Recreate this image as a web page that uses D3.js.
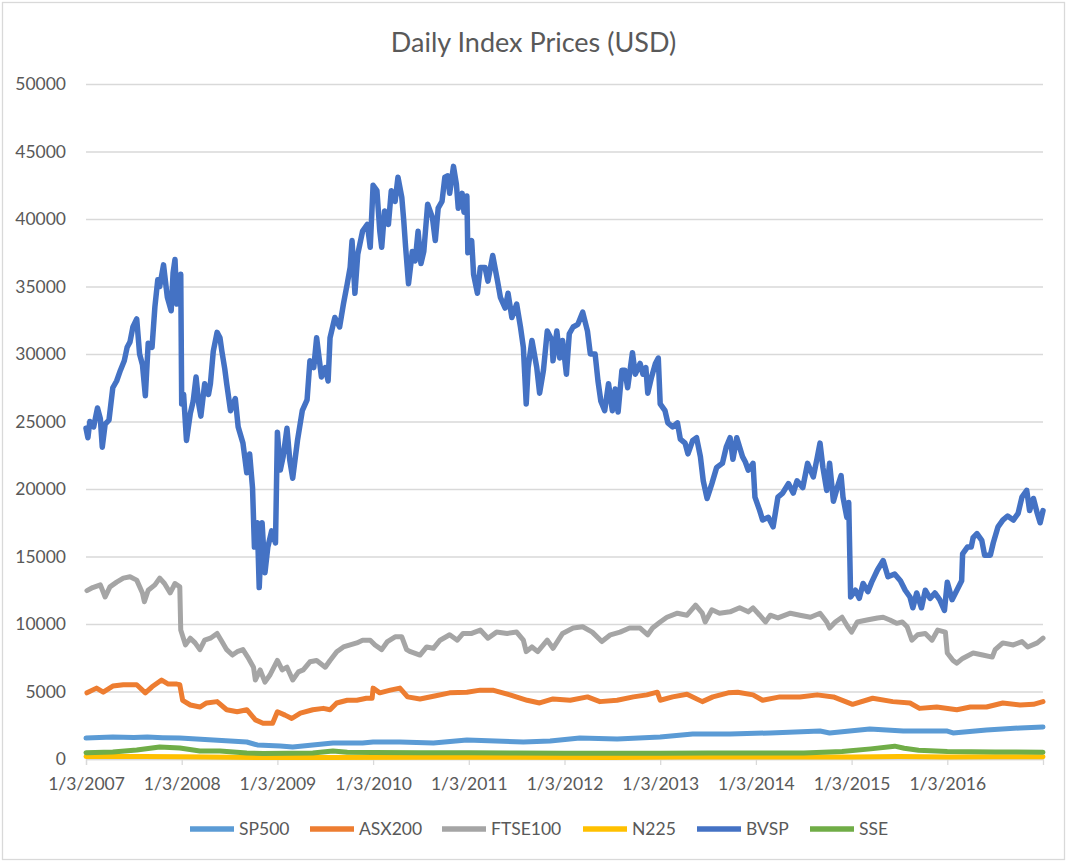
<!DOCTYPE html>
<html>
<head>
<meta charset="utf-8">
<script src="https://cdn.jsdelivr.net/npm/d3@7/dist/d3.min.js"></script>
<style>
  html, body { margin: 0; padding: 0; background: #fff; }
  svg { display: block; font-family: Lato, "Open Sans", sans-serif; }
</style>
</head>
<body>
<svg id="chart"></svg>
<script>
// tick labels on the category axis (first trading day of each year)
const tickYears = [2007, 2008, 2009, 2010, 2011, 2012, 2013, 2014, 2015, 2016];
const tickLabels = ["1/3/2007", "1/3/2008", "1/3/2009", "1/3/2010", "1/3/2011",
                    "1/3/2012", "1/3/2013", "1/3/2014", "1/3/2015", "1/3/2016"];

// series values as [decimal year, price in USD]
const sp500 = [[2007.00,1550],[2007.28,1630],[2007.50,1600],[2007.64,1630],[2007.80,1580],[2007.98,1550],
  [2008.33,1400],[2008.68,1260],[2008.79,1040],[2009.03,960],[2009.16,890],[2009.37,1040],[2009.58,1180],
  [2009.89,1180],[2010.00,1260],[2010.28,1260],[2010.63,1180],[2010.98,1400],[2011.57,1260],[2011.85,1330],
  [2012.16,1550],[2012.55,1480],[2013.00,1630],[2013.34,1850],[2013.73,1850],[2014.15,1930],[2014.67,2070],
  [2014.77,1930],[2015.19,2220],[2015.54,2070],[2016.00,2070],[2016.06,1930],[2016.41,2150],[2016.76,2300],
  [2017.00,2370]];

const asx200 = [[2007.01,4900],[2007.11,5250],[2007.18,4950],[2007.28,5400],[2007.39,5500],[2007.53,5500],
  [2007.62,4900],[2007.69,5350],[2007.79,5850],[2007.86,5550],[2007.95,5550],[2007.98,5500],[2008.01,4350],
  [2008.09,4000],[2008.19,3850],[2008.26,4150],[2008.37,4250],[2008.47,3650],[2008.58,3500],[2008.68,3650],
  [2008.77,2900],[2008.85,2650],[2008.95,2650],[2009.00,3500],[2009.08,3250],[2009.15,3000],[2009.24,3400],
  [2009.37,3650],[2009.48,3750],[2009.55,3650],[2009.62,4150],[2009.73,4350],[2009.83,4350],[2009.93,4500],
  [2009.99,4500],[2010.00,5250],[2010.07,4900],[2010.18,5100],[2010.28,5250],[2010.36,4600],[2010.49,4450],
  [2010.63,4650],[2010.80,4900],[2010.98,4950],[2011.12,5100],[2011.25,5100],[2011.43,4750],[2011.61,4350],
  [2011.74,4150],[2011.88,4450],[2012.06,4350],[2012.24,4600],[2012.37,4250],[2012.55,4350],[2012.72,4600],
  [2012.86,4750],[2012.97,4950],[2013.00,4350],[2013.13,4600],[2013.28,4800],[2013.44,4250],[2013.55,4600],
  [2013.71,4900],[2013.81,4950],[2013.97,4750],[2014.07,4350],[2014.25,4600],[2014.46,4600],[2014.64,4750],
  [2014.81,4600],[2015.01,4050],[2015.22,4500],[2015.43,4250],[2015.61,4150],[2015.71,3750],[2015.89,3850],
  [2016.10,3650],[2016.24,3850],[2016.41,3850],[2016.58,4150],[2016.76,4000],[2016.90,4050],[2017.00,4250]];

const ftse100 = [[2007.01,12470],[2007.07,12700],[2007.15,12900],[2007.20,12000],[2007.25,12750],
  [2007.32,13100],[2007.39,13400],[2007.46,13500],[2007.53,13250],[2007.59,12300],[2007.61,11650],
  [2007.65,12500],[2007.72,12900],[2007.77,13400],[2007.82,13000],[2007.88,12300],[2007.93,13000],
  [2007.98,12750],[2007.99,9550],[2008.04,8450],[2008.09,8950],[2008.14,8600],[2008.19,8100],[2008.24,8800],
  [2008.30,8950],[2008.37,9300],[2008.42,8700],[2008.47,8100],[2008.53,7700],[2008.58,7950],[2008.64,8100],
  [2008.69,7550],[2008.75,6800],[2008.77,5850],[2008.82,6600],[2008.87,5700],[2008.92,6200],[2009.00,7300],
  [2009.05,6600],[2009.10,6800],[2009.16,5850],[2009.22,6450],[2009.27,6600],[2009.34,7200],[2009.41,7300],
  [2009.50,6800],[2009.55,7300],[2009.62,7950],[2009.69,8300],[2009.76,8450],[2009.83,8600],[2009.89,8800],
  [2009.97,8800],[2010.02,8450],[2010.09,8100],[2010.15,8700],[2010.23,9050],[2010.30,9050],[2010.35,8100],
  [2010.39,7950],[2010.49,7700],[2010.56,8300],[2010.63,8200],[2010.70,8800],[2010.80,9200],[2010.88,8800],
  [2010.94,9300],[2011.03,9300],[2011.12,9550],[2011.20,8950],[2011.29,9400],[2011.40,9300],[2011.50,9400],
  [2011.57,8800],[2011.60,7950],[2011.66,8300],[2011.72,7950],[2011.82,8800],[2011.88,8200],[2011.98,9300],
  [2012.09,9700],[2012.19,9800],[2012.29,9400],[2012.39,8700],[2012.48,9200],[2012.58,9400],[2012.68,9700],
  [2012.79,9700],[2012.87,9200],[2012.92,9700],[2013.00,10150],[2013.07,10500],[2013.18,10800],[2013.28,10650],
  [2013.37,11400],[2013.44,10800],[2013.47,10150],[2013.54,11050],[2013.62,10800],[2013.73,10900],
  [2013.83,11200],[2013.92,10900],[2013.97,11200],[2014.04,10650],[2014.10,10150],[2014.15,10650],
  [2014.23,10450],[2014.36,10800],[2014.46,10650],[2014.57,10500],[2014.67,10800],[2014.74,10150],
  [2014.77,9700],[2014.83,10150],[2014.90,10500],[2014.96,9800],[2015.00,9400],[2015.06,10150],[2015.16,10300],
  [2015.27,10450],[2015.33,10500],[2015.40,10300],[2015.47,10050],[2015.53,10150],[2015.58,9800],
  [2015.63,8800],[2015.69,9200],[2015.77,9300],[2015.84,8800],[2015.90,9550],[2015.98,9400],[2016.00,7850],
  [2016.06,7300],[2016.10,7100],[2016.16,7450],[2016.27,7850],[2016.37,7700],[2016.47,7550],[2016.50,8100],
  [2016.58,8600],[2016.69,8450],[2016.78,8700],[2016.84,8300],[2016.94,8600],[2017.00,8950]];

const n225 = [[2007.00,180],[2007.60,190],[2008.00,170],[2008.80,110],[2009.50,120],[2010.50,130],
  [2011.50,125],[2012.50,120],[2013.20,150],[2014.00,140],[2015.00,150],[2015.50,180],[2016.00,150],
  [2016.50,160],[2017.00,170]];

const bvsp = [[2007.00,24500],[2007.02,23800],[2007.04,25000],[2007.08,24600],[2007.12,26000],[2007.15,25200],
  [2007.17,23100],[2007.20,24800],[2007.24,25100],[2007.28,27500],[2007.32,28000],[2007.36,28800],
  [2007.40,29500],[2007.43,30500],[2007.46,30900],[2007.49,32000],[2007.53,32600],[2007.56,30000],
  [2007.59,29200],[2007.62,26900],[2007.65,30800],[2007.69,30500],[2007.72,33500],[2007.75,35500],
  [2007.77,35000],[2007.81,36600],[2007.83,35400],[2007.85,34200],[2007.89,33200],[2007.91,36000],
  [2007.93,37000],[2007.95,33700],[2007.97,34800],[2007.99,35900],[2008.00,26300],[2008.02,27000],
  [2008.05,23600],[2008.09,25600],[2008.12,26500],[2008.15,28300],[2008.18,26200],[2008.20,25400],
  [2008.24,27800],[2008.28,27000],[2008.30,27800],[2008.33,30200],[2008.37,31600],[2008.40,31200],
  [2008.42,30200],[2008.45,28900],[2008.47,27800],[2008.51,25800],[2008.56,26700],[2008.59,24600],
  [2008.64,23400],[2008.66,22300],[2008.68,21200],[2008.71,22600],[2008.74,20100],[2008.76,15700],
  [2008.79,17500],[2008.81,12700],[2008.84,17500],[2008.87,13800],[2008.90,15700],[2008.94,16900],
  [2008.98,16000],[2009.00,24200],[2009.03,21400],[2009.06,22400],[2009.10,24500],[2009.13,22100],
  [2009.16,20800],[2009.21,23600],[2009.26,25800],[2009.31,26600],[2009.34,29500],[2009.38,29000],
  [2009.41,31200],[2009.46,28300],[2009.50,29000],[2009.53,28000],[2009.55,31200],[2009.60,32700],
  [2009.65,32000],[2009.69,33700],[2009.73,35200],[2009.76,36400],[2009.78,38400],[2009.81,34500],
  [2009.84,37400],[2009.89,39100],[2009.94,39600],[2009.97,37900],[2010.00,42500],[2010.04,42100],
  [2010.07,39100],[2010.09,37900],[2010.12,40600],[2010.16,39600],[2010.19,42100],[2010.23,41300],
  [2010.26,43100],[2010.30,41600],[2010.32,39900],[2010.34,37900],[2010.37,35200],[2010.41,37600],
  [2010.44,36900],[2010.47,39100],[2010.50,36700],[2010.53,37600],[2010.57,41100],[2010.62,40100],
  [2010.65,38400],[2010.68,40800],[2010.72,41300],[2010.75,43100],[2010.78,43200],[2010.80,41900],
  [2010.84,43900],[2010.87,42600],[2010.89,40800],[2010.93,41900],[2010.95,40500],[2010.98,41700],
  [2010.99,37500],[2011.03,38400],[2011.05,35900],[2011.09,34500],[2011.12,36400],[2011.17,36400],
  [2011.20,35400],[2011.25,37300],[2011.30,35400],[2011.33,34200],[2011.38,33400],[2011.41,34500],
  [2011.45,32700],[2011.50,33700],[2011.54,32000],[2011.57,30500],[2011.60,26300],[2011.62,29000],
  [2011.66,31000],[2011.71,29000],[2011.74,27100],[2011.78,28800],[2011.82,31700],[2011.87,31000],
  [2011.88,29500],[2011.92,31700],[2011.95,29700],[2011.98,31000],[2012.02,28500],[2012.05,31500],
  [2012.09,32000],[2012.14,32200],[2012.19,33100],[2012.24,31700],[2012.27,30000],[2012.32,30000],
  [2012.35,28000],[2012.38,26500],[2012.42,25800],[2012.46,27800],[2012.50,25800],[2012.53,27400],
  [2012.56,25700],[2012.60,28800],[2012.63,28800],[2012.66,27500],[2012.71,30100],[2012.74,28500],
  [2012.79,29300],[2012.82,28500],[2012.85,29000],[2012.87,27100],[2012.91,28300],[2012.95,29300],
  [2012.98,29700],[2013.00,26300],[2013.05,25800],[2013.08,24900],[2013.13,24600],[2013.18,24900],
  [2013.21,23700],[2013.26,23400],[2013.29,22600],[2013.34,23600],[2013.38,23800],[2013.42,22400],
  [2013.45,20600],[2013.49,19300],[2013.54,20400],[2013.59,21600],[2013.65,21900],[2013.69,23100],
  [2013.73,23800],[2013.76,22200],[2013.80,23800],[2013.86,22400],[2013.89,22000],[2013.92,21400],
  [2013.97,21900],[2013.99,19400],[2014.04,18400],[2014.07,17700],[2014.13,17900],[2014.18,17200],
  [2014.23,19400],[2014.28,19700],[2014.34,20400],[2014.39,19700],[2014.43,20600],[2014.49,20100],
  [2014.54,21900],[2014.60,20900],[2014.64,22300],[2014.67,23400],[2014.70,21600],[2014.74,19900],
  [2014.77,21900],[2014.81,19100],[2014.85,20100],[2014.89,21000],[2014.91,19400],[2014.95,17900],
  [2014.97,19000],[2014.99,12000],[2015.04,12500],[2015.08,11900],[2015.12,13000],[2015.17,12400],
  [2015.21,13100],[2015.27,14000],[2015.33,14700],[2015.38,13500],[2015.45,13700],[2015.51,13200],
  [2015.56,12500],[2015.61,12000],[2015.64,11200],[2015.68,12300],[2015.73,11200],[2015.77,12500],
  [2015.82,11900],[2015.87,12300],[2015.92,11800],[2015.97,11000],[2016.00,13100],[2016.05,11800],
  [2016.10,12500],[2016.15,13200],[2016.16,15200],[2016.21,15700],[2016.25,15700],[2016.27,16400],
  [2016.31,16700],[2016.36,16200],[2016.39,15100],[2016.45,15100],[2016.48,16000],[2016.53,17200],
  [2016.58,17700],[2016.63,18000],[2016.69,17700],[2016.74,18200],[2016.78,19400],[2016.83,19900],
  [2016.86,18400],[2016.90,19300],[2016.94,18200],[2016.97,17500],[2017.00,18400]];

const sse = [[2007.00,470],[2007.28,520],[2007.53,670],[2007.77,890],[2007.98,810],[2008.19,600],
  [2008.40,600],[2008.68,450],[2008.85,400],[2009.37,450],[2009.58,600],[2009.73,500],[2010.00,480],
  [2010.50,470],[2011.00,460],[2011.50,440],[2012.00,430],[2012.50,420],[2013.00,430],[2013.50,440],
  [2014.00,440],[2014.50,450],[2014.90,550],[2015.20,750],[2015.45,950],[2015.55,800],[2015.70,650],
  [2016.00,560],[2016.50,520],[2017.00,500]];

const seriesNames = ["SP500", "ASX200", "FTSE100", "N225", "BVSP", "SSE"];
const seriesData = [sp500, asx200, ftse100, n225, bvsp, sse];
const seriesColors = ["#5B9BD5", "#ED7D31", "#A5A5A5", "#FFC000", "#4472C4", "#70AD47"];

const width = 1067, height = 862;
const margin = { top: 84, right: 24, bottom: 103, left: 86 };

const svg = d3.select("#chart")
    .attr("width", width)
    .attr("height", height);

// chart area border
svg.append("rect")
    .attr("x", 2.5).attr("y", 2.5)
    .attr("width", width - 5).attr("height", height - 5)
    .attr("fill", "#fff")
    .attr("stroke", "#d9d9d9")
    .attr("stroke-width", 1.3);

const x = d3.scaleLinear()
    .domain([2007, 2017])
    .range([margin.left, width - margin.right]);

const y = d3.scaleLinear()
    .domain([0, 50000])
    .range([height - margin.bottom, margin.top]);

// title
svg.append("text")
    .attr("x", width / 2)
    .attr("y", 52)
    .attr("text-anchor", "middle")
    .attr("fill", "#595959")
    .attr("font-size", "27px")
    .text("Daily Index Prices (USD)");

// y axis: gridlines + labels
const yAxis = svg.append("g")
    .attr("transform", `translate(${margin.left},0)`)
    .call(d3.axisLeft(y)
      .tickValues(d3.range(0, 50001, 5000))
      .tickSize(-(width - margin.left - margin.right))
      .tickPadding(20)
      .tickFormat(d3.format("d")));
yAxis.select(".domain").remove();
yAxis.selectAll(".tick line").attr("stroke", "#d9d9d9").attr("stroke-width", 1.3);
yAxis.selectAll(".tick text")
    .attr("fill", "#595959")
    .attr("font-size", "17.5px")
    .attr("font-family", "Lato, sans-serif");

// x axis
const xAxis = svg.append("g")
    .attr("transform", `translate(0,${height - margin.bottom})`)
    .call(d3.axisBottom(x)
      .tickValues(tickYears)
      .tickSize(6)
      .tickPadding(13)
      .tickFormat((d, i) => tickLabels[i]));
xAxis.select(".domain").attr("stroke", "#d9d9d9").attr("stroke-width", 1.3);
xAxis.selectAll(".tick line").attr("stroke", "#d9d9d9").attr("stroke-width", 1.3);
xAxis.selectAll(".tick text")
    .attr("fill", "#595959")
    .attr("font-size", "17.5px")
    .attr("font-family", "Lato, sans-serif");

// series lines
const line = d3.line()
    .x(d => x(d[0]))
    .y(d => y(d[1]))
    .curve(d3.curveLinear);

svg.append("g")
    .attr("fill", "none")
    .attr("stroke-linejoin", "round")
    .attr("stroke-linecap", "round")
  .selectAll("path")
  .data(seriesData)
  .join("path")
    .attr("stroke", (d, i) => seriesColors[i])
    .attr("stroke-width", (d, i) => seriesNames[i] === "BVSP" ? 5.5 : 5)
    .attr("d", line);

// legend
const legendX = [190, 310, 442, 583, 697, 810];
const legend = svg.append("g")
  .selectAll("g")
  .data(seriesNames)
  .join("g")
    .attr("transform", (d, i) => `translate(${legendX[i]},829)`);

legend.append("line")
    .attr("x1", 0).attr("x2", 44)
    .attr("stroke", (d, i) => seriesColors[i])
    .attr("stroke-width", 5.5);

legend.append("text")
    .attr("x", 49)
    .attr("dy", "0.35em")
    .attr("fill", "#595959")
    .attr("font-size", "17.5px")
    .text(d => d);
</script>
</body>
</html>
